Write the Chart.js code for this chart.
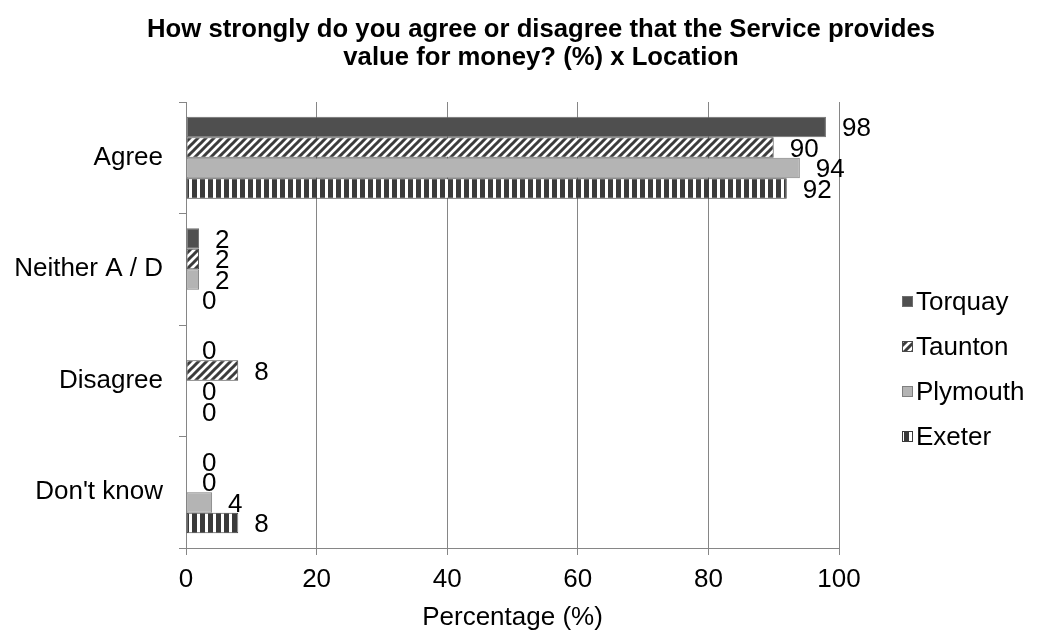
<!DOCTYPE html>
<html>
<head>
<meta charset="utf-8">
<script src="https://cdn.jsdelivr.net/npm/chart.js@4.4.1/dist/chart.umd.min.js"></script>
<style>
  html, body { margin: 0; padding: 0; background: #fff; }
  #wrap { width: 1037px; height: 635px; position: relative; }
</style>
</head>
<body>
<div id="wrap"><canvas id="myChart" width="1037" height="635"></canvas></div>
<script>
// chart data
const categories = ['Agree', 'Neither A / D', 'Disagree', "Don't know"];
const locations = ['Torquay', 'Taunton', 'Plymouth', 'Exeter'];
const torquay = [98, 2, 0, 0];
const taunton = [90, 2, 8, 0];
const plymouth = [94, 2, 0, 4];
const exeter = [92, 0, 0, 8];
const xTicks = [0, 20, 40, 60, 80, 100];
const titleLines = ['How strongly do you agree or disagree that the Service provides', 'value for money? (%) x Location'];

const FONT = 'Liberation Sans, Arial, sans-serif';
const GRID = '#868686';

// fill patterns for the striped bars
function diagPattern() {
  const c = document.createElement('canvas');
  c.width = 8; c.height = 8;
  const g = c.getContext('2d');
  g.fillStyle = '#ffffff';
  g.fillRect(0, 0, 8, 8);
  g.strokeStyle = '#3c3c3c';
  g.lineWidth = 3;
  g.beginPath();
  g.moveTo(-2, 10); g.lineTo(10, -2);
  g.moveTo(-6, 6); g.lineTo(6, -6);
  g.moveTo(2, 14); g.lineTo(14, 2);
  g.stroke();
  return g.createPattern(c, 'repeat');
}
function vertPattern() {
  const c = document.createElement('canvas');
  c.width = 8; c.height = 8;
  const g = c.getContext('2d');
  g.fillStyle = '#ffffff';
  g.fillRect(0, 0, 8, 8);
  g.fillStyle = '#3a3a3a';
  g.fillRect(0, 0, 5, 8);
  return g.createPattern(c, 'repeat');
}

const fills = ['#4f4f4f', diagPattern(), '#b4b4b4', vertPattern()];
const borders = ['#6e6e6e', '#4a4a4a', '#7f7f7f', '#3a3a3a'];
const series = [torquay, taunton, plymouth, exeter];

// value labels just past the bar end
const valueLabels = {
  id: 'valueLabels',
  afterDatasetsDraw(chart) {
    const ctx = chart.ctx;
    ctx.save();
    ctx.font = '26px ' + FONT;
    ctx.fillStyle = '#000';
    ctx.textAlign = 'left';
    ctx.textBaseline = 'middle';
    chart.data.datasets.forEach((ds, i) => {
      chart.getDatasetMeta(i).data.forEach((bar, j) => {
        ctx.fillText(String(ds.data[j]), bar.x + 16, bar.y + 2);
      });
    });
    ctx.restore();
  }
};

// title and legend drawn in place
const extras = {
  id: 'extras',
  afterDraw(chart) {
    const ctx = chart.ctx;
    ctx.save();
    ctx.fillStyle = '#000';
    ctx.font = 'bold 25.7px ' + FONT;
    ctx.textAlign = 'center';
    ctx.textBaseline = 'middle';
    titleLines.forEach((t, i) => ctx.fillText(t, 541, 30 + i * 28));

    ctx.font = '26px ' + FONT;
    ctx.textAlign = 'left';
    locations.forEach((name, i) => {
      const cy = 302 + i * 45;
      ctx.fillStyle = fills[i];
      ctx.fillRect(902, cy - 6, 11, 11);
      ctx.strokeStyle = borders[i];
      ctx.lineWidth = 1;
      ctx.strokeRect(902.5, cy - 5.5, 10, 10);
      ctx.fillStyle = '#000';
      ctx.fillText(name, 916, cy + 1);
    });
    ctx.restore();
  }
};

new Chart(document.getElementById('myChart').getContext('2d'), {
  type: 'bar',
  data: {
    labels: categories,
    datasets: locations.map((name, i) => ({
      label: name,
      data: series[i],
      backgroundColor: fills[i],
      borderColor: borders[i],
      borderWidth: 1,
      borderSkipped: false,
      categoryPercentage: 0.735,
      barPercentage: 1
    }))
  },
  options: {
    indexAxis: 'y',
    responsive: false,
    animation: false,
    layout: { padding: { top: 102, right: 198, left: 0, bottom: 0 } },
    plugins: {
      legend: { display: false },
      title: { display: false },
      tooltip: { enabled: false }
    },
    scales: {
      x: {
        min: 0,
        max: 100,
        afterFit: s => { s.height = 87; },
        afterBuildTicks: s => { s.ticks = xTicks.map(v => ({ value: v })); },
        grid: { color: GRID, tickLength: 7, tickColor: GRID },
        border: { display: true, color: GRID },
        ticks: { color: '#000', font: { family: FONT, size: 26 }, padding: 9 },
        title: {
          display: true,
          text: 'Percentage (%)',
          color: '#000',
          font: { family: FONT, size: 26 },
          padding: { top: 0, bottom: 2 }
        }
      },
      y: {
        afterFit: s => { s.width = 186; },
        grid: { drawOnChartArea: false, offset: true, tickLength: 7, color: GRID },
        border: { display: true, color: GRID },
        ticks: { color: '#000', font: { family: FONT, size: 26 }, padding: 16 }
      }
    }
  },
  plugins: [valueLabels, extras]
});
</script>
</body>
</html>
